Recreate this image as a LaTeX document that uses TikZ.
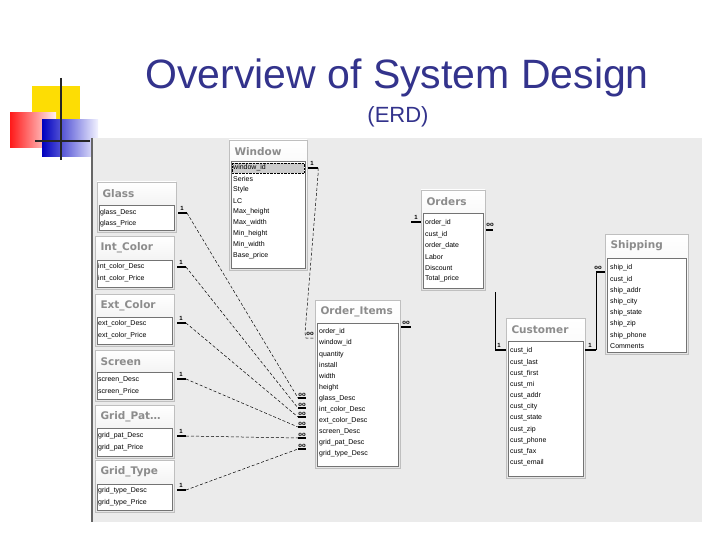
\documentclass[tikz,border=0pt]{standalone}
\usepackage{fontspec}
\setmainfont{Liberation Sans}
\newfontfamily\tabfont{DejaVu Sans}
\begin{document}
\begin{tikzpicture}[x=1pt,y=-1pt,
  ttl/.style={anchor=west,font=\tabfont\fontsize{10.5}{10}\selectfont\bfseries,text=black!45},
  itm/.style={anchor=west,font=\fontsize{7}{7}\selectfont,inner sep=0pt},
  link/.style={densely dashed,line width=0.5pt},
  solidlink/.style={line width=0.6pt},
  mk/.style={font=\fontsize{6}{6}\selectfont\bfseries,inner sep=0pt}]
\useasboundingbox (0,0) rectangle (720,540);
\fill[white] (0,0) rectangle (720,540);
% logo
\fill[yellow!80!orange] (32,86) rectangle (80,120);
\shade[left color=red!90,right color=red!5] (10,113) rectangle (56,148);
\shade[left color=blue!75!black,right color=blue!5] (42,120) rectangle (98,157);
\draw[line width=2pt,black!85] (61,78) -- (61,160);
\draw[line width=2pt,black!85] (35,141) -- (90,141);
% title
\node[font=\fontsize{41}{41}\selectfont,text={rgb,255:red,51;green,51;blue,140}] (title) at (397,78) {Overview of System Design};
\node[font=\fontsize{22}{22}\selectfont,text={rgb,255:red,51;green,51;blue,140}] (sub) at (398,117) {(ERD)};
% panel
\fill[black!8] (92,138) rectangle (702,522);
\draw[line width=2pt,black!60] (92,138) -- (92,522);
\newcommand{\tbl}[7]{%
  \filldraw[draw=black!25,top color=white,bottom color=black!10] (#2,#3) rectangle (#4,#5);
  \node[ttl] (#1t) at (#2+2,#3+12) {#7};
  \filldraw[fill=white,draw=black!55] (#2+2,#6) rectangle (#4-2,#5-2);
}
\tbl{win}{229}{140}{307}{270}{161}{Window}
\fill[black!20] (232,163) rectangle (304,173);
\draw[densely dotted] (232,163) rectangle (304,173);
\foreach \t [count=\i from 0] in {window\_id,Series,Style,LC,Max\_height,Max\_width,Min\_height,Min\_width,Base\_price}
  \node[itm] (w\i) at (233,168+\i*11) {\t};
\tbl{gl}{97}{182}{176}{232}{205}{Glass}
\node[itm] at (100,213) {glass\_Desc}; \node[itm] at (100,224) {glass\_Price};
\tbl{ic}{95}{236}{174}{289}{260}{Int\_Color}
\node[itm] at (98,267) {int\_color\_Desc}; \node[itm] at (98,279) {int\_color\_Price};
\tbl{ec}{95}{294}{174}{346}{317}{Ext\_Color}
\node[itm] at (98,324) {ext\_color\_Desc}; \node[itm] at (98,336) {ext\_color\_Price};
\tbl{sc}{95}{350}{174}{401}{372}{Screen}
\node[itm] at (98,380) {screen\_Desc}; \node[itm] at (98,392) {screen\_Price};
\tbl{gp}{95}{405}{174}{458}{428}{Grid\_Pat\ldots}
\node[itm] at (98,436) {grid\_pat\_Desc}; \node[itm] at (98,448) {grid\_pat\_Price};
\tbl{gt}{95}{460}{174}{512}{484}{Grid\_Type}
\node[itm] at (98,491) {grid\_type\_Desc}; \node[itm] at (98,503) {grid\_type\_Price};
\tbl{oi}{315}{300}{400}{468}{323}{Order\_Items}
\foreach \t [count=\i from 0] in {order\_id,window\_id,quantity,install,width,height,glass\_Desc,int\_color\_Desc,ext\_color\_Desc,screen\_Desc,grid\_pat\_Desc,grid\_type\_Desc}
  \node[itm] at (319,332+\i*11.1) {\t};
\tbl{ord}{421}{190}{485}{290}{213}{Orders}
\foreach \t [count=\i from 0] in {order\_id,cust\_id,order\_date,Labor,Discount,Total\_price}
  \node[itm] at (425,223+\i*11.2) {\t};
\tbl{cu}{506}{318}{585}{478}{341}{Customer}
\foreach \t [count=\i from 0] in {cust\_id,cust\_last,cust\_first,cust\_mi,cust\_addr,cust\_city,cust\_state,cust\_zip,cust\_phone,cust\_fax,cust\_email}
  \node[itm] at (510,351+\i*11.2) {\t};
\tbl{sh}{605}{234}{688}{354}{258}{Shipping}
\foreach \t [count=\i from 0] in {ship\_id,cust\_id,ship\_addr,ship\_city,ship\_state,ship\_zip,ship\_phone,Comments}
  \node[itm] at (610,268+\i*11.2) {\t};
% connector endpoints
\coordinate (gA) at (178,213); \coordinate (gB) at (306,398);
\coordinate (iA) at (177,267); \coordinate (iB) at (306,408);
\coordinate (eA) at (177,323); \coordinate (eB) at (306,417);
\coordinate (sA) at (177,379); \coordinate (sB) at (306,427);
\coordinate (pA) at (177,436); \coordinate (pB) at (306,438);
\coordinate (tA) at (177,490); \coordinate (tB) at (306,449);
\foreach \a/\b in {gA/gB,iA/iB,eA/eB,sA/sB,pA/pB,tA/tB}{
  \draw[line width=1.5pt] (\a) -- ++(9,0);
  \draw[link] ([xshift=9pt]\a) -- ([xshift=-8pt]\b);
  \draw[line width=1.5pt] ([xshift=-8pt]\b) -- (\b);
  \node[mk] at ([xshift=-4pt,yshift=3.5pt]\b) {oo};
}
\foreach \a in {gA,iA,eA,sA,pA,tA} \node[mk] at ([xshift=4pt,yshift=4.5pt]\a) {1};
% window -> order_items
\coordinate (wA) at (308,168); \coordinate (wB) at (306,338);
\draw[line width=1.5pt] (wA) -- (318,168);
\draw[link] (318,168) -- (318,175) -- (305,333) -- (wB) -- (314,338);
\node[mk] at (312,163) {1};
\node[mk] at (310,334) {oo};
% order_items -> orders markers
\draw[line width=1.5pt] (401,327) -- (411,327);
\node[mk] at (406,323) {oo};
\draw[line width=1.5pt] (411,222) -- (421,222);
\node[mk] at (416,217) {1};
% orders -> customer
\draw[line width=1.5pt] (486,230) -- (493,230);
\node[mk] at (490,225) {oo};
\coordinate (oC) at (495,292);
\draw[solidlink] (oC) -- (495,350) -- (506,350);
\draw[line width=1.5pt] (495,350) -- (506,350);
\node[mk] at (499,345) {1};
% customer -> shipping
\draw[line width=1.5pt] (585,350) -- (596,350);
\draw[solidlink] (596,350) -- (596,272) -- (605,272);
\draw[line width=1.5pt] (596,272) -- (605,272);
\node[mk] at (590,345) {1};
\node[mk] at (598,268) {oo};
\end{tikzpicture}
\end{document}
